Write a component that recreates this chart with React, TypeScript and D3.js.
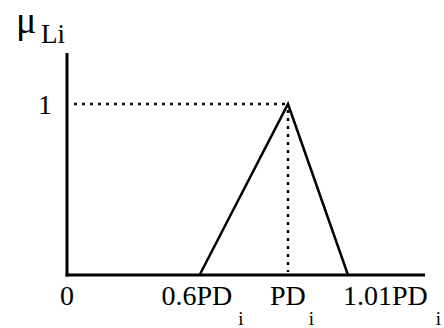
import React from 'react'
import * as d3 from 'd3'

// membership function breakpoints (in units of PD_i)
const triangle = [
  { x: 0.6, mu: 0 },
  { x: 1.0, mu: 1 },
  { x: 1.01, mu: 0 }
]
const yTicks = [1]
const xTickLabels = [
  { v: 0, main: '0', sub: '' },
  { v: 0.6, main: '0.6PD', sub: 'i' },
  { v: 1.0, main: 'PD', sub: 'i' },
  { v: 1.01, main: '1.01PD', sub: 'i' }
]

const W = 444
const H = 328
const font = 'Liberation Serif'

export default function App() {
  const origin = { x: 67, y: 275 }
  // schematic axis: the last segment is stretched so the triangle is visible
  const x = d3.scaleLinear().domain([0, 1.0, 1.01]).range([origin.x, 288, 348])
  const y = d3.scaleLinear().domain([0, 1]).range([origin.y, 104])

  const line = d3.line<{ x: number; mu: number }>()
    .x(d => x(d.x))
    .y(d => y(d.mu))

  const peak = triangle[1]

  // label placement tweaks (offset from tick, sub gap)
  const labelPos = [
    { dx: 0, anchor: 'middle', gap: 0 },
    { dx: 3, anchor: 'middle', gap: 6 },
    { dx: 4, anchor: 'middle', gap: 3 },
    { dx: -5, anchor: 'start', gap: 8 }
  ]

  return (
    <svg width={W} height={H} style={{ position: 'absolute', left: 0, top: 0, background: '#fff', fontFamily: font }}>
      {/* axes */}
      <line x1={origin.x} x2={origin.x} y1={53} y2={origin.y + 1.5} stroke="#000" strokeWidth={3} />
      <line x1={origin.x - 1.5} x2={425} y1={origin.y} y2={origin.y} stroke="#000" strokeWidth={3} />

      {/* dotted guides to the peak */}
      <line x1={origin.x + 7} x2={x(peak.x)} y1={y(peak.mu)} y2={y(peak.mu)}
        stroke="#000" strokeWidth={2.5} strokeDasharray="3 5" />
      <line x1={x(peak.x)} x2={x(peak.x)} y1={y(peak.mu) + 6} y2={origin.y - 3}
        stroke="#000" strokeWidth={2.5} strokeDasharray="3 5" />

      {/* triangle */}
      <path d={line(triangle) || ''} fill="none" stroke="#000" strokeWidth={2.5} strokeLinejoin="miter" />

      {/* y tick labels */}
      {yTicks.map(t => (
        <text key={t} x={origin.x - 15} y={y(t) + 10} textAnchor="end" fontSize={28}>{t}</text>
      ))}

      {/* x tick labels */}
      {xTickLabels.map((t, i) => {
        const p = labelPos[i]
        return (
          <text key={t.main} x={x(t.v) + p.dx} y={305} textAnchor={p.anchor as any} fontSize={28}>
            {t.main}
            {t.sub && <tspan dx={p.gap} dy={20} fontSize={19}>{t.sub}</tspan>}
          </text>
        )
      })}

      {/* axis title */}
      <text x={16} y={33} fontSize={38}>μ</text>
      <text x={41} y={43} fontSize={27}>Li</text>
    </svg>
  )
}
